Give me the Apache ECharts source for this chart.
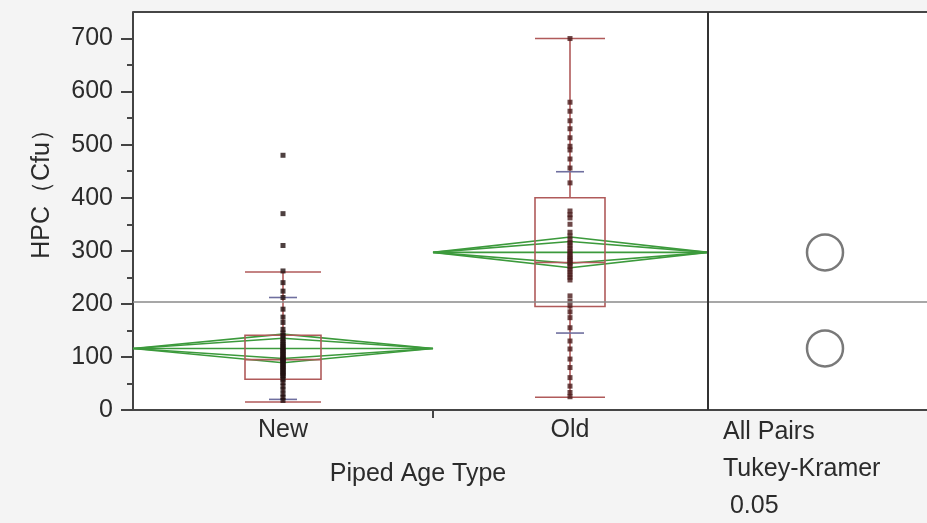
<!DOCTYPE html>
<html>
<head>
<meta charset="utf-8">
<script src="https://cdn.jsdelivr.net/npm/echarts@6/dist/echarts.min.js"></script>
<style>
  html, body { margin: 0; padding: 0; background: #f4f4f4; }
  #main { width: 927px; height: 523px; }
</style>
</head>
<body>
<div id="main"></div>
<script>
    var groups = ['New', 'Old'];
    var newHpc = [480, 370, 310, 262, 240, 224, 212, 190, 175, 165, 152, 145, 140, 135, 130, 127, 124, 120,
        118, 115, 112, 110, 108, 105, 102, 100, 98, 96, 94, 92, 90, 88, 85, 82, 80, 78, 75, 72, 70, 68,
        65, 62, 58, 52, 45, 38, 30, 24, 18];
    var oldHpc = [700, 580, 563, 545, 530, 513, 497, 490, 473, 456, 428, 375, 368, 362, 350, 335, 328, 320,
        315, 310, 305, 300, 296, 292, 288, 285, 282, 278, 275, 270, 265, 260, 255, 250, 245, 215, 205, 196,
        185, 174, 155, 130, 115, 96, 80, 61, 45, 33, 25];
    var boxMin = [15, 24];
    var boxQ1 = [58, 195];
    var boxMedian = [95, 278];
    var boxQ3 = [141, 400];
    var boxMax = [260, 700];
    var groupMeans = [116, 297];
    var meanCI = [27, 29];
    var groupSD = [96, 152];
    var grandMean = 204;
    var yTicks = [0, 100, 200, 300, 400, 500, 600, 700];
    var yMinorTicks = [50, 150, 250, 350, 450, 550, 650];
    var titles = ['All Pairs', 'Tukey-Kramer', ' 0.05'];

    // x axis runs in pixel-like units across the plot
    var xCenter = [150, 437];
    var xSpan = [[0, 300], [300, 575]];
    var xDivider = 575;
    var xCircles = 692;
    var boxHalf = [38, 35];
    var yTop = 750;
    var font = 'Arial, "Liberation Sans", sans-serif';
    var ink = '#2b2b2b';

    var myChart = echarts.init(document.getElementById('main'));

    function renderGroup(params, api) {
        var i = params.dataIndex;
        var c = xCenter[i], bw = boxHalf[i];
        var lo = xSpan[i][0], hi = xSpan[i][1], mid = (lo + hi) / 2;
        var m = groupMeans[i], ci = meanCI[i], ov = ci / Math.SQRT2, sd = groupSD[i];
        function p(x, y) { return api.coord([x, y]); }
        function line(a, b, style) { return { type: 'line', shape: { x1: a[0], y1: a[1], x2: b[0], y2: b[1] }, style: style }; }
        var red = { stroke: '#b05a5a', lineWidth: 1.6 };
        var green = { stroke: '#3c9a3c', fill: 'none', lineWidth: 1.6, lineJoin: 'bevel' };
        var blue = { stroke: '#6f6f9f', lineWidth: 1.6 };
        var q3 = p(c - bw, boxQ3[i]), q1 = p(c + bw, boxQ1[i]);
        return {
            type: 'group',
            children: [
                { type: 'polygon', shape: { points: [p(lo, m), p(mid, m + ci), p(hi, m), p(mid, m - ci)] }, style: green },
                { type: 'polygon', shape: { points: [p(lo, m), p(mid, m + ov), p(hi, m), p(mid, m - ov)] }, style: green },
                line(p(lo, m), p(hi, m), green),
                { type: 'rect', shape: { x: q3[0], y: q3[1], width: q1[0] - q3[0], height: q1[1] - q3[1] }, style: { stroke: '#b05a5a', fill: 'none', lineWidth: 1.6 } },
                line(p(c - bw, boxMedian[i]), p(c + bw, boxMedian[i]), red),
                line(p(c, boxQ3[i]), p(c, boxMax[i]), red),
                line(p(c, boxQ1[i]), p(c, boxMin[i]), red),
                line(p(c - bw, boxMax[i]), p(c + bw, boxMax[i]), red),
                line(p(c - bw, boxMin[i]), p(c + bw, boxMin[i]), red),
                line(p(c - 14, m + sd), p(c + 14, m + sd), blue),
                line(p(c - 14, m - sd), p(c + 14, m - sd), blue)
            ]
        };
    }

    var option = {
        animation: false,
        backgroundColor: '#f4f4f4',
        grid: { left: 133, right: 0, top: 12, bottom: 113, show: true, backgroundColor: '#fff', borderWidth: 0 },
        xAxis: {
            type: 'value', min: 0, max: 794,
            axisLine: { show: true, onZero: false, lineStyle: { color: '#454545', width: 2 } },
            axisTick: { show: true, customValues: [xSpan[0][1]], length: 8, lineStyle: { color: '#454545', width: 2 } },
            axisLabel: { customValues: xCenter, margin: 8, fontSize: 25, fontFamily: font, color: ink,
                formatter: function (v) { return groups[xCenter.indexOf(v)]; } },
            splitLine: { show: false }
        },
        yAxis: [{
            type: 'value', min: 0, max: yTop,
            axisLine: { show: true, lineStyle: { color: '#434343', width: 2 } },
            axisTick: { show: true, customValues: yTicks, length: 12, lineStyle: { color: '#434343', width: 2 } },
            axisLabel: { customValues: yTicks, margin: 20, fontSize: 25, fontFamily: font, color: ink },
            splitLine: { show: false }
        }, {
            type: 'value', min: 0, max: yTop, position: 'left',
            axisLine: { show: false },
            axisTick: { show: true, customValues: yMinorTicks, length: 6, lineStyle: { color: '#474747', width: 2 } },
            axisLabel: { show: false },
            splitLine: { show: false }
        }],
        graphic: [
            { type: 'text', x: 42, y: 188, rotation: Math.PI / 2,
              style: { text: 'HPC（Cfu）', fontSize: 25, fontFamily: font, fill: ink, align: 'center', verticalAlign: 'middle' } },
            { type: 'text', x: 418, y: 474,
              style: { text: 'Piped Age Type', fontSize: 25, fontFamily: font, fill: ink, align: 'center', verticalAlign: 'middle' } },
            { type: 'text', x: 723, y: 432, style: { text: titles[0], fontSize: 25, fontFamily: font, fill: ink, align: 'left', verticalAlign: 'middle' } },
            { type: 'text', x: 723, y: 469, style: { text: titles[1], fontSize: 25, fontFamily: font, fill: ink, align: 'left', verticalAlign: 'middle' } },
            { type: 'text', x: 723, y: 506, style: { text: titles[2], fontSize: 25, fontFamily: font, fill: ink, align: 'left', verticalAlign: 'middle' } }
        ],
        series: [{
            type: 'custom', renderItem: renderGroup, z: 2,
            data: groups.map(function (g, i) { return [xCenter[i], groupMeans[i]]; })
        }, {
            type: 'scatter', symbol: 'rect', symbolSize: 5, z: 3, itemStyle: { color: '#221010' },
            data: newHpc.map(function (v) { return [xCenter[0], v]; })
        }, {
            type: 'scatter', symbol: 'rect', symbolSize: 5, z: 3, itemStyle: { color: '#4a1a1a' },
            data: oldHpc.map(function (v) { return [xCenter[1], v]; })
        }, {
            type: 'scatter', symbol: 'circle', symbolSize: 36, z: 3,
            itemStyle: { color: 'rgba(255,255,255,0)', borderColor: '#585858', borderWidth: 2.5 },
            data: groupMeans.map(function (v) { return [xCircles, v]; }),
            markLine: {
                silent: true, symbol: 'none', label: { show: false },
                lineStyle: { color: '#8a8a8a', width: 1.5, type: 'solid' },
                data: [
                    { yAxis: grandMean },
                    { yAxis: yTop, lineStyle: { color: '#464646', width: 2, type: 'solid' } },
                    { xAxis: xDivider, lineStyle: { color: '#323232', width: 2, type: 'solid' } }
                ]
            }
        }]
    };
    myChart.setOption(option);
</script>
</body>
</html>
